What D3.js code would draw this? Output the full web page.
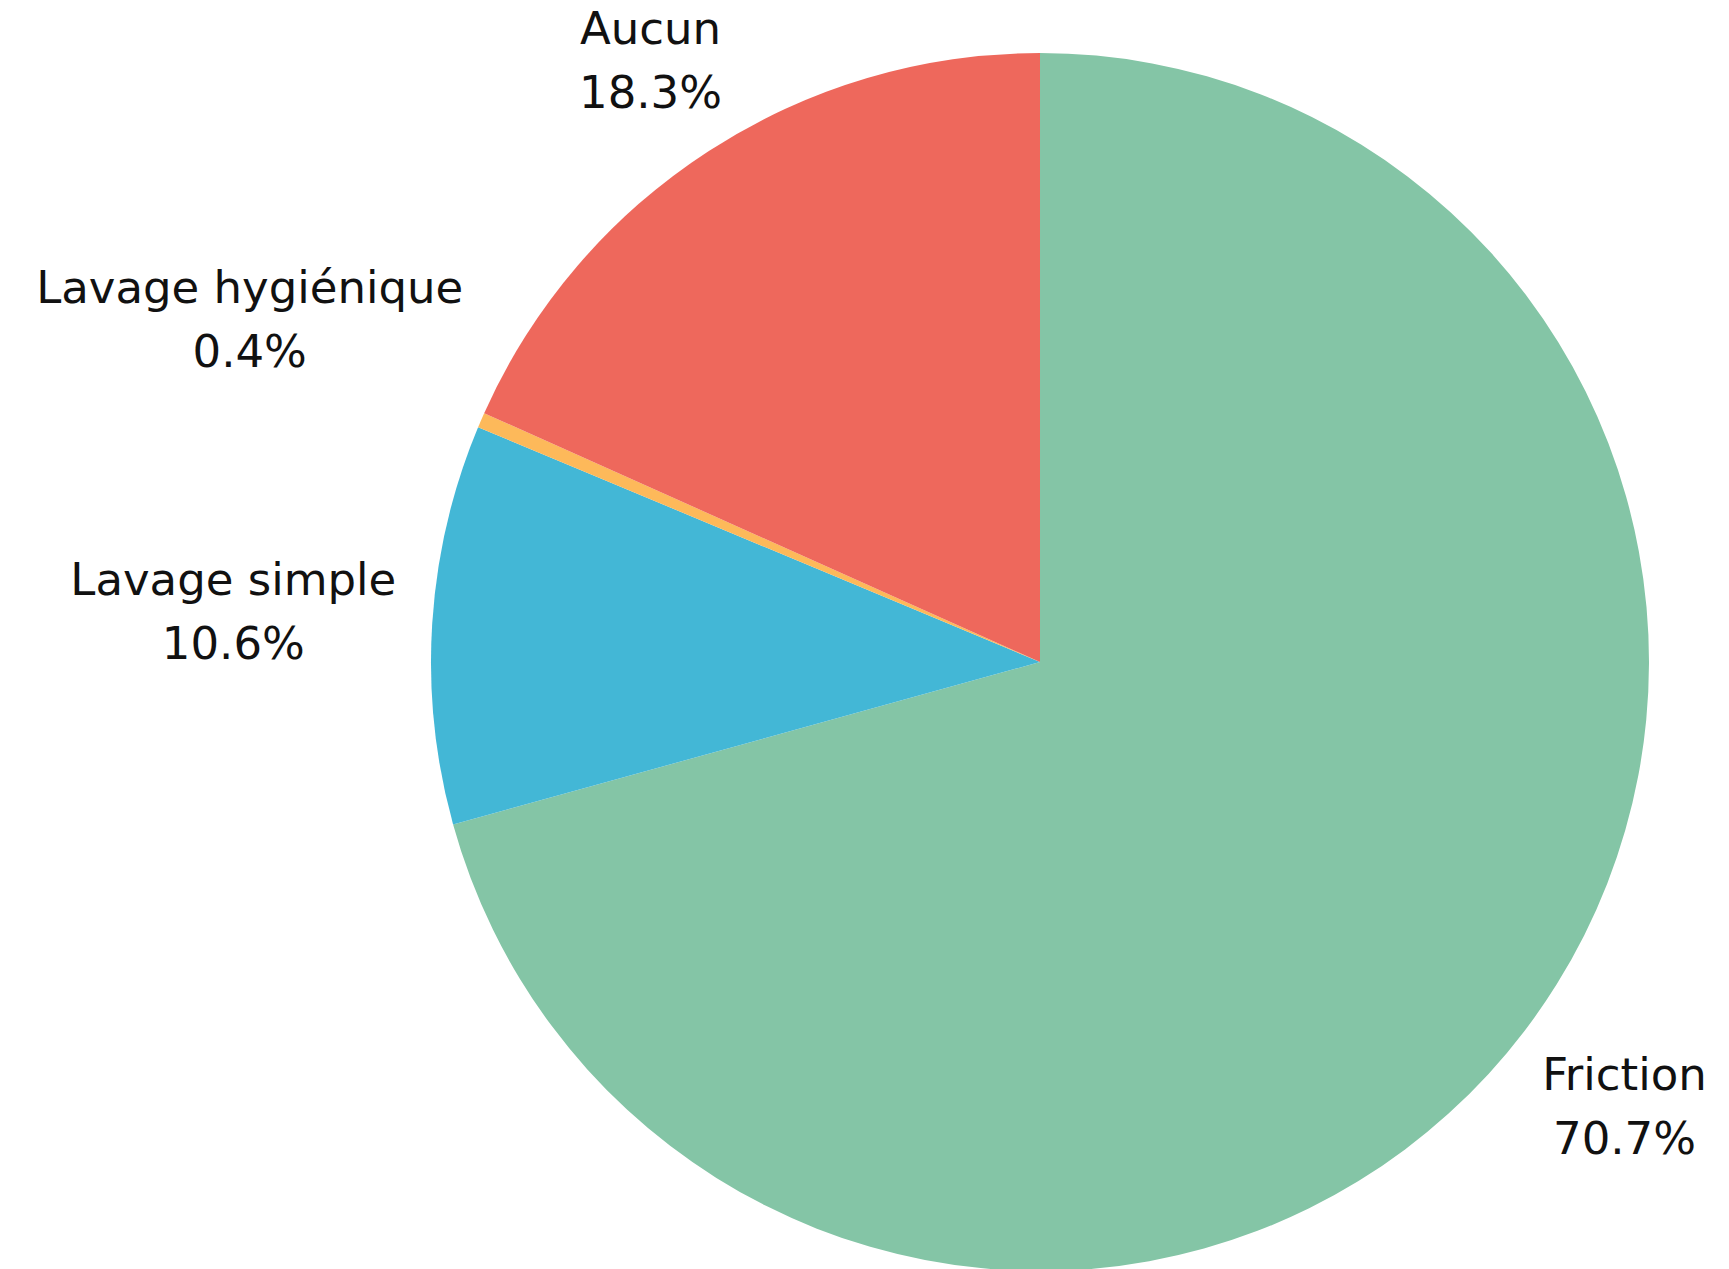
<!DOCTYPE html>
<html>
<head>
<meta charset="utf-8">
<script src="https://cdn.jsdelivr.net/npm/d3@7"></script>
<style>
  html, body { margin: 0; padding: 0; background: #ffffff; }
  svg { display: block; }
</style>
</head>
<body>
<svg id="chart" width="1729" height="1269"></svg>
<script>
// ---- data ----
const categories = ["Friction", "Lavage simple", "Lavage hygiénique", "Aucun"];
const values = [70.7, 10.6, 0.4, 18.3];
const colors = ["#84C5A6", "#43B7D6", "#FDB95A", "#EE685C"];

// ---- layout config ----
const W = 1729, H = 1269;
const cx = 1040, cy = 662, R = 609;
const labelGap = [22, 36, 91, 31];
const fontSize = 45, lineH = 64;

const svg = d3.select("#chart");
const g = svg.append("g").attr("transform", `translate(${cx},${cy})`);

const data = categories.map((c, i) => ({ cat: c, value: values[i], color: colors[i], i }));
const pie = d3.pie().sort(null).value(d => d.value).startAngle(0).endAngle(2 * Math.PI);
const arc = d3.arc().innerRadius(0).outerRadius(R);
const arcs = pie(data);

g.selectAll("path.slice").data(arcs).enter().append("path")
  .attr("class", "slice")
  .attr("d", arc)
  .attr("fill", d => d.data.color);

const fmt = d3.format(".1f");
const labels = g.selectAll("text.lbl").data(arcs).enter().append("text")
  .attr("class", "lbl")
  .attr("text-anchor", "middle")
  .style("font-family", "'DejaVu Sans', sans-serif")
  .style("font-size", fontSize + "px")
  .attr("fill", "#111111");

labels.append("tspan").attr("x", 0).attr("y", -lineH / 2).attr("dominant-baseline", "central").text(d => d.data.cat);
labels.append("tspan").attr("x", 0).attr("y", lineH / 2).attr("dominant-baseline", "central").text(d => fmt(d.data.value) + "%");

labels.each(function(d) {
  const bb = this.getBBox();
  const hw = bb.width / 2, hh = lineH;
  const a = (d.startAngle + d.endAngle) / 2;
  const dx = Math.sin(a), dy = -Math.cos(a);
  const edge = Math.min(Math.abs(dx) > 1e-6 ? hw / Math.abs(dx) : Infinity,
                        Math.abs(dy) > 1e-6 ? hh / Math.abs(dy) : Infinity);
  const dist = R + labelGap[d.data.i] + edge;
  d3.select(this).attr("transform", `translate(${dx * dist},${dy * dist})`);
});
</script>
</body>
</html>
